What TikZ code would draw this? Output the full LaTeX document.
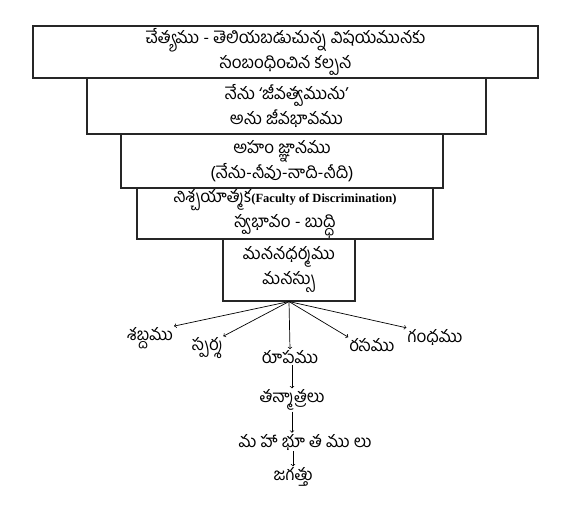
\documentclass[tikz,border=0pt]{standalone}
\usepackage{fontspec}
\setmainfont{Liberation Serif}
\newfontfamily\telugu[Script=Telugu]{Hind Guntur}
\newfontfamily\eng{Liberation Serif}
\usetikzlibrary{shapes.geometric, arrows}
\tikzstyle{layer} = [rectangle, draw=black!85, line width=1.1pt, align=center, inner sep=0pt, font=\telugu\fontsize{17}{25}\selectfont]
\tikzstyle{sense} = [inner sep=1pt, font=\telugu\fontsize{17}{20}\selectfont]
\tikzstyle{arrow} = [line width=0.7pt, ->, >=to]

\begin{document}
\begin{tikzpicture}[x=1pt, y=-1pt, node distance=54pt]
\useasboundingbox (0,0) rectangle (575,509);
\node (chetya) [layer, minimum width=505pt, minimum height=52pt] at (285.5,52) {చేత్యము - తెలియబడుచున్న విషయమునకు\\సంబంధించిన కల్పన};
\node (jiva) [layer, below of=chetya, xshift=1pt, minimum width=399pt, minimum height=56pt] {నేను ‘జీవత్వమును’\\అను జీవభావము};
\node (aham) [layer, below of=jiva, xshift=-4.5pt, yshift=-1pt, minimum width=322pt, minimum height=54pt] {అహం జ్ఞానము\\(నేను-నీవు-నాది-నీది)};
\node (buddhi) [layer, below of=aham, xshift=3pt, yshift=1.5pt, minimum width=296pt, minimum height=51pt] {నిశ్చయాత్మక{\eng\bfseries\fontsize{12.5}{14}\selectfont(Faculty of Discrimination)}\\స్వభావం - బుద్ధి};
\node (manas) [layer, below of=buddhi, xshift=4pt, yshift=-2.5pt, minimum width=132pt, minimum height=62pt] {మననధర్మము\\మనస్సు};
\node (sabda) [sense] at (150,338) {శబ్దము};
\node (sparsa) [sense] at (207,348) {స్పర్శ};
\node (rupa) [sense] at (290,357) {రూపము};
\node (rasa) [sense] at (372,345) {రసము};
\node (gandha) [sense] at (435,337) {గంధము};
\node (tanmatra) [sense, below of=rupa, node distance=43pt, xshift=2pt] {తన్మాత్రలు};
\node (bhuta) [sense, below of=tanmatra, node distance=42pt, xshift=13pt] {మ హా భూ త ము లు};
\node (jagat) [sense, below of=bhuta, node distance=35pt, xshift=-12pt] {జగత్తు};
\draw [arrow] (manas.south) -- (sabda.north east);
\draw [arrow] (manas.south) -- (sparsa.north east);
\draw [arrow] (manas.south) -- (rupa.north);
\draw [arrow] (manas.south) -- (rasa.north west);
\draw [arrow] (manas.south) -- (gandha.north west);
\draw [arrow] (rupa.south -| tanmatra.north) -- (tanmatra.north);
\draw [arrow] (tanmatra.south) -- (tanmatra.south |- bhuta.north);
\draw [arrow] (bhuta.south -| jagat.north) -- (jagat.north);
\end{tikzpicture}
\end{document}
